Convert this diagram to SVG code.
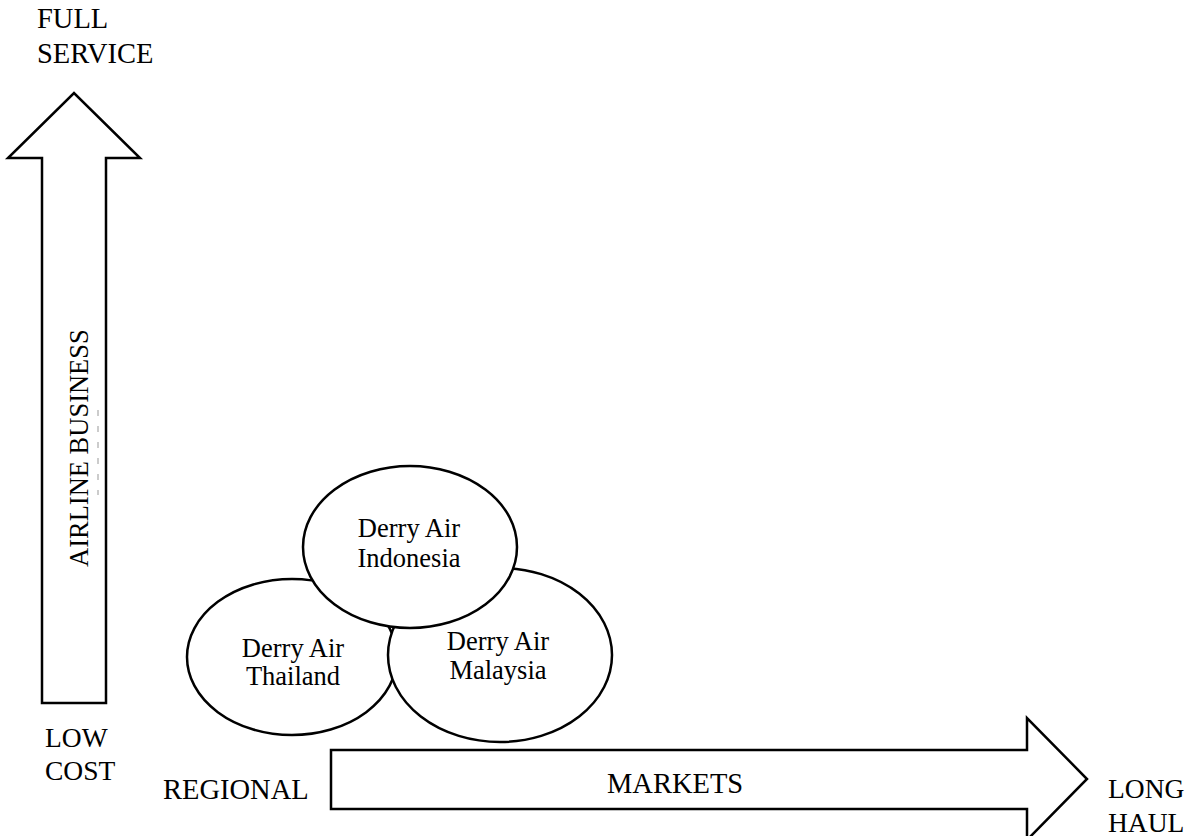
<svg xmlns="http://www.w3.org/2000/svg" width="1191" height="836" viewBox="0 0 1191 836">
<style>
text{font-family:"Liberation Serif","Times New Roman",serif;font-size:28.5px;fill:#000}
text.s{font-size:26.5px}
text.m{font-size:27.5px}
.shape{fill:#fff;stroke:#000;stroke-width:2.5}
.c{text-anchor:middle}
</style>
<rect width="1191" height="836" fill="#fff"/>
<g id="axis-business">
<polygon class="shape" points="42,703 42,158 8,158 74,93 140,158 106,158 106,703"/>
<text class="s" transform="translate(88,567) rotate(-90)">AIRLINE BUSINESS</text>
<line x1="98" y1="410" x2="98" y2="495" stroke="#999" stroke-width="1" stroke-dasharray="6,10"/>
</g>
<g id="axis-markets">
<polygon class="shape" points="331,750 1027,750 1027,718 1087,779 1027,840 1027,809 331,809"/>
<text x="607" y="793">MARKETS</text>
</g>
<g id="label-full-service">
<text x="37" y="28">FULL</text>
<text x="37" y="63">SERVICE</text>
</g>
<g id="label-low-cost">
<text class="m" x="45" y="747">LOW</text>
<text class="m" x="45" y="780">COST</text>
</g>
<g id="label-regional"><text x="163" y="799">REGIONAL</text></g>
<g id="label-long-haul">
<text class="m" x="1108" y="798">LONG</text>
<text class="m" x="1108" y="832">HAUL</text>
</g>
<g id="node-thailand">
<ellipse class="shape" cx="292" cy="657" rx="105" ry="78"/>
<text class="s c" x="293" y="657">Derry Air</text>
<text class="s c" x="293" y="685">Thailand</text>
</g>
<g id="node-malaysia">
<ellipse class="shape" cx="500" cy="655" rx="112" ry="87"/>
<text class="s c" x="498" y="650">Derry Air</text>
<text class="s c" x="498" y="679">Malaysia</text>
</g>
<g id="node-indonesia">
<ellipse class="shape" cx="410" cy="547" rx="107" ry="81"/>
<text class="s c" x="409" y="537">Derry Air</text>
<text class="s c" x="409" y="567">Indonesia</text>
</g>
<g id="connectors"></g>
</svg>
